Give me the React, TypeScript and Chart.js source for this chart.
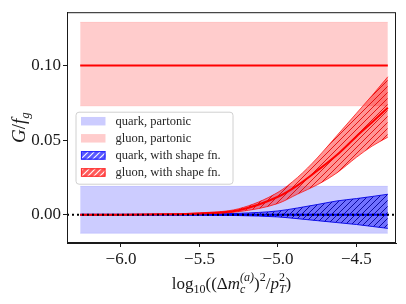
import { useEffect, useRef } from 'react';
import { Chart, registerables } from 'chart.js';
Chart.register(...registerables);

// ---- data ----
const axisX = [-6.344, -4.248];
const axisY = [-0.019, 0.1358];
const xTicks = [-6.0, -5.5, -5.0, -4.5];
const xTickLabels = ['\u22126.0', '\u22125.5', '\u22125.0', '\u22124.5'];
const yTicks = [0, 0.05, 0.1];
const yTickLabels = ['0.00', '0.05', '0.10'];

const bandX = [-6.26, -4.3];
const quarkPartonicUpper = [0.019, 0.019];
const quarkPartonicLower = [-0.0125, -0.0125];
const gluonPartonicUpper = [0.129, 0.129];
const gluonPartonicLower = [0.073, 0.073];
const gluonPartonicCentral = [0.1, 0.1];

const shapeX = [-6.26, -6.0, -5.75, -5.5, -5.25, -5.0, -4.875, -4.75, -4.625, -4.5, -4.4, -4.3];
const gluonShapeCentral = [0, 0, 0.0002, 0.0008, 0.003, 0.012, 0.0197, 0.0295, 0.04, 0.0525, 0.062, 0.0717];
const gluonShapeUpper = [0, 0, 0.0003, 0.0012, 0.004, 0.015, 0.025, 0.038, 0.053, 0.068, 0.08, 0.0925];
const gluonShapeLower = [0, 0, 0.0001, 0.0005, 0.002, 0.0075, 0.0138, 0.02, 0.028, 0.0385, 0.046, 0.052];
const quarkShapeCentral = [0, 0, 0, 0, 0, 0, 0, 0, 0, 0, 0, 0];
const quarkShapeUpper = [0, 0, 0.0001, 0.0003, 0.0009, 0.0025, 0.0045, 0.0068, 0.0092, 0.0108, 0.0122, 0.0137];
const quarkShapeLower = [0, 0, 0, -0.0002, -0.0006, -0.0015, -0.0027, -0.004, -0.0053, -0.0066, -0.0079, -0.0092];
const zeroLine = [0, 0];

const legendLabels = ['quark, partonic', 'gluon, partonic', 'quark, with shape fn.', 'gluon, with shape fn.'];

const FONT = '"Liberation Serif", "DejaVu Serif", serif';

function pts(xs: number[], ys: number[]) {
  return xs.map((x, i) => ({ x, y: ys[i] }));
}

function makeHatch(bg: string, line: string, size = 6, lw = 1) {
  const c = document.createElement('canvas');
  c.width = size;
  c.height = size;
  const g = c.getContext('2d')!;
  g.fillStyle = bg;
  g.fillRect(0, 0, size, size);
  g.strokeStyle = line;
  g.lineWidth = lw;
  g.beginPath();
  g.moveTo(-1, size + 1);
  g.lineTo(size + 1, -1);
  g.moveTo(-2, 2);
  g.lineTo(2, -2);
  g.moveTo(size - 2, size + 2);
  g.lineTo(size + 2, size - 2);
  g.stroke();
  return g.createPattern(c, 'repeat')!;
}

type Piece = { t?: string; size: number; italic?: boolean; dy?: number; sub?: string; sup?: string; subItalic?: boolean; supItalic?: boolean };

function fontOf(size: number, italic?: boolean) {
  return `${italic ? 'italic ' : ''}${size}px ${FONT}`;
}

function pieceWidth(ctx: CanvasRenderingContext2D, p: Piece) {
  if (p.t !== undefined) {
    ctx.font = fontOf(p.size, p.italic);
    return ctx.measureText(p.t).width;
  }
  let w = 0;
  if (p.sub) { ctx.font = fontOf(p.size, p.subItalic); w = Math.max(w, ctx.measureText(p.sub).width); }
  if (p.sup) { ctx.font = fontOf(p.size, p.supItalic); w = Math.max(w, ctx.measureText(p.sup).width); }
  return w;
}

function drawRich(ctx: CanvasRenderingContext2D, pieces: Piece[], cx: number, baseline: number, subDy: number, supDy: number) {
  const widths = pieces.map((p) => pieceWidth(ctx, p));
  const total = widths.reduce((a, b) => a + b, 0);
  let x = cx - total / 2;
  ctx.textAlign = 'left';
  ctx.textBaseline = 'alphabetic';
  pieces.forEach((p, i) => {
    if (p.t !== undefined) {
      ctx.font = fontOf(p.size, p.italic);
      ctx.fillText(p.t, x, baseline + (p.dy || 0));
    } else {
      if (p.sub) { ctx.font = fontOf(p.size, p.subItalic); ctx.fillText(p.sub, x, baseline + subDy); }
      if (p.sup) { ctx.font = fontOf(p.size, p.supItalic); ctx.fillText(p.sup, x, baseline + supDy); }
    }
    x += widths[i];
  });
}

export default function App() {
  const ref = useRef<HTMLCanvasElement>(null);
  useEffect(() => {
    const canvas = ref.current!;
    const redHatch = makeHatch('rgba(255,0,0,0.42)', 'rgba(225,0,0,0.85)', 6, 1);
    const blueHatch = makeHatch('rgba(0,0,255,0.45)', 'rgba(0,0,150,0.9)', 6, 1);
    const redLegend = makeHatch('rgba(255,90,90,1)', 'rgba(255,255,255,0.95)', 6, 1.2);
    const blueLegend = makeHatch('rgba(90,90,255,1)', 'rgba(255,255,255,0.95)', 6, 1.2);

    const frame = {
      id: 'frameAndLegend',
      afterDraw(chart: any) {
        const { ctx, chartArea: a } = chart;
        ctx.save();
        ctx.strokeStyle = '#1a1a1a';
        ctx.lineWidth = 1;
        ctx.strokeRect(a.left + 0.5, a.top + 0.5, a.right - a.left - 1, a.bottom - a.top - 1);

        // legend
        const lx = a.left + 9, ly = a.top + 100, lw = 157, lh = 72;
        ctx.beginPath();
        const r = 3;
        ctx.moveTo(lx + r, ly);
        ctx.arcTo(lx + lw, ly, lx + lw, ly + lh, r);
        ctx.arcTo(lx + lw, ly + lh, lx, ly + lh, r);
        ctx.arcTo(lx, ly + lh, lx, ly, r);
        ctx.arcTo(lx, ly, lx + lw, ly, r);
        ctx.closePath();
        ctx.fillStyle = 'rgba(255,255,255,0.8)';
        ctx.fill();
        ctx.strokeStyle = '#d0d0d0';
        ctx.lineWidth = 1;
        ctx.stroke();
        const fills = ['rgba(0,0,255,0.2)', 'rgba(255,0,0,0.2)', blueLegend, redLegend];
        const edges = [null, null, 'rgba(40,40,255,1)', 'rgba(255,50,50,1)'];
        legendLabels.forEach((lab, i) => {
          const cy = ly + 9 + i * 17.1;
          const px = lx + 5, pw = 24.5, ph = 8.5;
          ctx.fillStyle = fills[i];
          ctx.fillRect(px, cy - ph / 2, pw, ph);
          if (edges[i]) {
            ctx.strokeStyle = edges[i];
            ctx.lineWidth = 1.2;
            ctx.strokeRect(px + 0.5, cy - ph / 2 + 0.5, pw - 1, ph - 1);
          }
          ctx.fillStyle = '#262626';
          ctx.font = `12.5px ${FONT}`;
          ctx.textAlign = 'left';
          ctx.textBaseline = 'middle';
          ctx.fillText(lab, lx + 39.5, cy + 0.5);
        });

        // axis titles
        ctx.fillStyle = '#1a1a1a';
        const S = 17, s = 12;
        drawRich(ctx, [
          { t: 'log', size: S },
          { sub: '10', size: s },
          { t: '((\u0394', size: S },
          { t: 'm', size: S, italic: true },
          { sub: 'c', sup: '(a)', size: s, subItalic: true, supItalic: true },
          { t: ')', size: S },
          { sup: '2', size: s },
          { t: '/', size: S },
          { t: 'p', size: S, italic: true },
          { sub: 'T', sup: '2', size: s, subItalic: true },
          { t: ')', size: S },
        ], (a.left + a.right) / 2, 289, 4, -8);

        ctx.translate(19, (a.top + a.bottom) / 2);
        ctx.rotate(-Math.PI / 2);
        drawRich(ctx, [
          { t: 'G', size: 19, italic: true },
          { t: '/', size: 19 },
          { t: 'f', size: 19, italic: true },
          { sub: 'g', size: 13, subItalic: true },
        ], 0, 6, 4, -8);
        ctx.restore();
      },
    };

    const line = (data: any, color: string, width: number, order: number, extra: any = {}) => ({
      data,
      borderColor: color,
      borderWidth: width,
      pointRadius: 0,
      fill: false,
      order,
      cubicInterpolationMode: 'monotone',
      ...extra,
    });

    const chart = new Chart(canvas, {
      type: 'line',
      data: {
        datasets: [
          // 0,1 quark partonic band
          line(pts(bandX, quarkPartonicUpper), 'rgba(0,0,255,0.12)', 1, 100, { fill: '+1', backgroundColor: 'rgba(0,0,255,0.2)' }),
          line(pts(bandX, quarkPartonicLower), 'rgba(0,0,255,0.12)', 1, 99),
          // 2,3 gluon partonic band
          line(pts(bandX, gluonPartonicUpper), 'rgba(255,0,0,0.12)', 1, 90, { fill: '+1', backgroundColor: 'rgba(255,0,0,0.2)' }),
          line(pts(bandX, gluonPartonicLower), 'rgba(255,0,0,0.12)', 1, 89),
          // 4 gluon partonic central
          line(pts(bandX, gluonPartonicCentral), '#ff0000', 2, 85),
          // 5,6,7 quark shape fn
          line(pts(shapeX, quarkShapeUpper), 'rgba(0,0,230,0.9)', 1, 80, { fill: '+1', backgroundColor: blueHatch }),
          line(pts(shapeX, quarkShapeLower), 'rgba(0,0,230,0.9)', 1, 79),
          line(pts(shapeX, quarkShapeCentral), '#0000ff', 2, 78),
          // 8,9,10 gluon shape fn
          line(pts(shapeX, gluonShapeUpper), 'rgba(255,0,0,0.7)', 1, 70, { fill: '+1', backgroundColor: redHatch }),
          line(pts(shapeX, gluonShapeLower), 'rgba(255,0,0,0.7)', 1, 69),
          line(pts(shapeX, gluonShapeCentral), '#ff0000', 2, 68),
          // 11 zero line
          line(pts(axisX, zeroLine), '#000000', 2, 1, { borderDash: [2, 3], borderCapStyle: 'butt' }),
        ] as any,
      },
      options: {
        animation: false,
        responsive: false,
        layout: { padding: { left: 0, right: 10, top: 9, bottom: 0 } },
        plugins: { legend: { display: false }, tooltip: { enabled: false } },
        scales: {
          x: {
            type: 'linear',
            min: axisX[0],
            max: axisX[1],
            afterFit: (s: any) => { s.height = 61; },
            afterBuildTicks: (s: any) => { s.ticks = xTicks.map((v) => ({ value: v })); },
            grid: { drawOnChartArea: false, drawTicks: true, tickLength: 4, color: '#1a1a1a' },
            border: { display: true, color: '#1a1a1a' },
            ticks: {
              padding: 2,
              color: '#1a1a1a',
              font: { family: FONT, size: 17 },
              maxRotation: 0,
              callback: (v: any) => { const i = xTicks.indexOf(Number(v)); return i >= 0 ? xTickLabels[i] : ''; },
            },
          },
          y: {
            type: 'linear',
            min: axisY[0],
            max: axisY[1],
            afterFit: (s: any) => { s.width = 67; },
            afterBuildTicks: (s: any) => { s.ticks = yTicks.map((v) => ({ value: v })); },
            grid: { drawOnChartArea: false, drawTicks: true, tickLength: 4, color: '#1a1a1a' },
            border: { display: true, color: '#1a1a1a' },
            ticks: {
              padding: 2,
              color: '#1a1a1a',
              font: { family: FONT, size: 17 },
              callback: (v: any) => { const i = yTicks.indexOf(Number(v)); return i >= 0 ? yTickLabels[i] : ''; },
            },
          },
        },
      },
      plugins: [frame],
    } as any);
    return () => chart.destroy();
  }, []);
  return (
    <div style={{ position: 'fixed', left: 0, top: 0, width: 406, height: 304, background: '#fff' }}>
      <canvas ref={ref} width={406} height={304} style={{ display: 'block' }} />
    </div>
  );
}
